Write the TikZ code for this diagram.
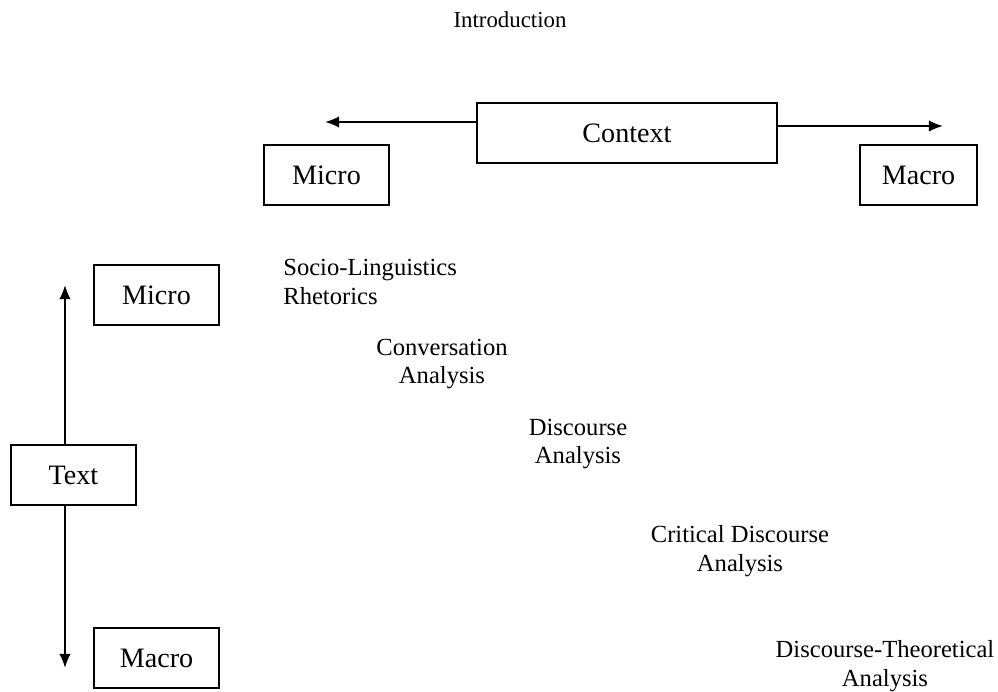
\documentclass[tikz,border=0pt]{standalone}
\usepackage{fontspec}
\setmainfont{Liberation Serif}
\usetikzlibrary{positioning}
\usetikzlibrary{arrows.meta}

\begin{document}
\begin{tikzpicture}[x=0.02cm, y=-0.02cm]
  \tikzstyle{box}=[rectangle, line width = 0.8pt, draw = black, minimum height = 1.2cm, font = \fontsize{16}{19}\selectfont]
  \tikzstyle{field}=[align = center, inner sep = 0pt, font = \fontsize{14}{16.5}\selectfont]
  \tikzstyle{connect}=[-{Latex[length = 8pt, width = 6.5pt]}, line width = 1.1pt]

  \useasboundingbox (0,0) rectangle (998,691);

  \node[font = \fontsize{13}{15}\selectfont] (intro) at (510,20) {Introduction};

  % context axis
  \node[box, minimum width = 6cm] (context) at (627,133) {Context};
  \node[box, minimum width = 2.5cm] (ctxmicro) at (326.5,175) {Micro};
  \node[box, minimum width = 2.34cm] (ctxmacro) at (918.5,175) {Macro};
  \coordinate (ctxleft) at (325,122);
  \coordinate (ctxright) at (943,126);
  \draw[connect] (context.west |- ctxleft) -- (ctxleft);
  \draw[connect] (context.east |- ctxright) -- (ctxright);

  % text axis
  \node[box, minimum width = 2.5cm] (text) at (73.5,475) {Text};
  \node[box, minimum width = 2.5cm] (txtmicro) at (156.5,295) {Micro};
  \node[box, minimum width = 2.5cm] (txtmacro) at (156.5,658) {Macro};
  \coordinate (txtup) at (65,285);
  \coordinate (txtdown) at (65,668);
  \draw[connect] (text.north -| txtup) -- (txtup);
  \draw[connect] (text.south -| txtdown) -- (txtdown);

  % fields
  \node[field, align = left, anchor = west] (socio) at (283,282) {Socio-Linguistics\\Rhetorics};
  \foreach \x/\y/\name/\first/\second in
    { 442/364/conv/Conversation/Analysis
    , 578/444/disc/Discourse/Analysis
    , 740/551/crit/Critical Discourse/Analysis
    , 885/666/theo/Discourse-Theoretical/Analysis
    }
    \node[field] (\name) at (\x,\y) {\first\\\second};
\end{tikzpicture}
\end{document}
